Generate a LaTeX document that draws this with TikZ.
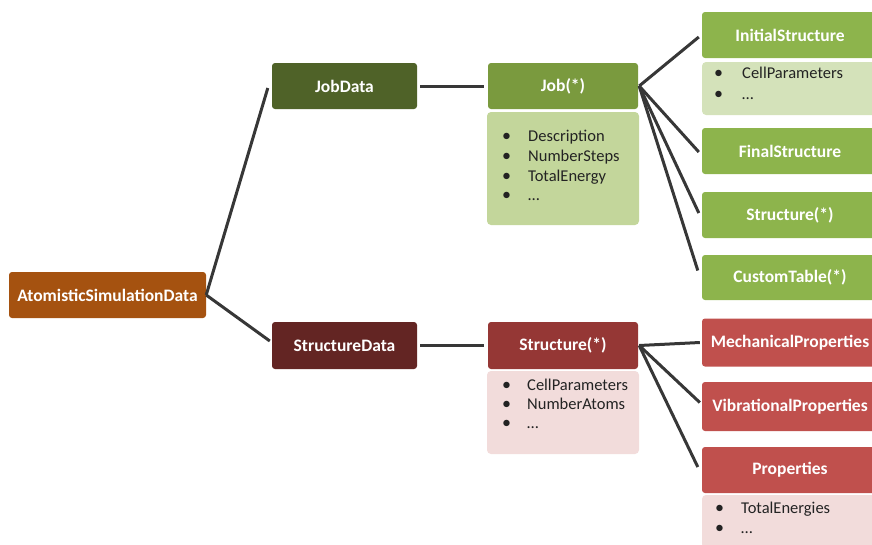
\documentclass[tikz,border=0pt]{standalone}
\usepackage{fontspec}
\setmainfont{Carlito}
\usetikzlibrary{calc}
\definecolor{asdc}{RGB}{165,82,16}
\definecolor{jobdatac}{RGB}{79,98,40}
\definecolor{jobc}{RGB}{122,154,62}
\definecolor{gright}{RGB}{141,180,76}
\definecolor{gbody}{RGB}{195,214,155}
\definecolor{gbodyl}{RGB}{212,226,186}
\definecolor{sdatac}{RGB}{99,37,35}
\definecolor{rstructc}{RGB}{149,55,53}
\definecolor{rright}{RGB}{192,80,77}
\definecolor{pbody}{RGB}{242,220,219}
\definecolor{linegray}{RGB}{55,55,55}
\definecolor{itemgray}{RGB}{35,35,35}
\begin{document}
\begin{tikzpicture}[x=1pt,y=-1pt,
  box/.style={rounded corners=3pt, inner sep=0pt, text=white,
    font=\fontsize{17.5}{20}\selectfont\bfseries, align=center},
  body/.style={rounded corners=4pt, inner sep=0pt},
  item/.style={anchor=base west, inner sep=0pt, text=itemgray,
    font=\fontsize{16.5}{19}\selectfont},
  bul/.style={anchor=base west, inner sep=0pt, text=itemgray,
    font=\fontsize{18}{19}\selectfont},
  link/.style={draw=linegray, line width=3pt}]
\useasboundingbox (0,0) rectangle (872,544);

% left
\node[box, fill=asdc, minimum width=197pt, minimum height=46pt] (asd) at (107.5,295) {AtomisticSimulationData};
\node[box, fill=jobdatac, minimum width=145pt, minimum height=46pt] (jobdata) at (344.5,86) {JobData};
\node[box, fill=sdatac, minimum width=145pt, minimum height=47pt] (structdata) at (344.5,345.5) {StructureData};

% middle
\node[box, fill=jobc, minimum width=150pt, minimum height=46pt] (job) at (563,86) {Job(*)};
\node[body, fill=gbody, minimum width=152pt, minimum height=113pt] (jobbody) at (563,168.5) {};
\node[box, fill=rstructc, minimum width=150pt, minimum height=47pt] (rstruct) at (563,345.5) {Structure(*)};
\node[body, fill=pbody, minimum width=152pt, minimum height=83pt] (rbody) at (563,412.5) {};

% right green
\node[box, fill=gright, minimum width=176pt, minimum height=46pt] (init) at (790,35) {InitialStructure};
\node[body, fill=gbodyl, minimum width=176pt, minimum height=53pt] (initbody) at (790,88.5) {};
\node[box, fill=gright, minimum width=176pt, minimum height=46pt] (final) at (790,151) {FinalStructure};
\node[box, fill=gright, minimum width=176pt, minimum height=46pt] (gstruct) at (790,215) {Structure(*)};
\node[box, fill=gright, minimum width=176pt, minimum height=45pt] (custom) at (790,277.5) {CustomTable(*)};

% right red
\node[box, fill=rright, minimum width=176pt, minimum height=48pt] (mech) at (790,342.5) {MechanicalProperties};
\node[box, fill=rright, minimum width=176pt, minimum height=49pt] (vib) at (790,406.5) {VibrationalProperties};
\node[box, fill=rright, minimum width=176pt, minimum height=46pt] (props) at (790,470) {Properties};
\node[body, fill=pbody, minimum width=176pt, minimum height=53pt] (propsbody) at (790,521.5) {};

% list items
\node[bul] (jb1) at (502,141) {•}; \node[item] (jt1) at (528,141) {Description};
\node[bul] (jb2) at (502,161) {•}; \node[item] (jt2) at (528,161) {NumberSteps};
\node[bul] (jb3) at (502,181) {•}; \node[item] (jt3) at (528,181) {TotalEnergy};
\node[bul] (jb4) at (502,200) {•}; \node[item] (jt4) at (528,200) {\ldots};

\node[bul] (ib1) at (714,78) {•}; \node[item] (it1) at (742,78) {CellParameters};
\node[bul] (ib2) at (714,99) {•}; \node[item] (it2) at (742,99) {\ldots};

\node[bul] (rb1) at (502,390) {•}; \node[item] (rt1) at (527,390) {CellParameters};
\node[bul] (rb2) at (502,409) {•}; \node[item] (rt2) at (527,409) {NumberAtoms};
\node[bul] (rb3) at (502,428) {•}; \node[item] (rt3) at (527,428) {\ldots};

\node[bul] (pb1) at (715,513) {•}; \node[item] (pt1) at (741,513) {TotalEnergies};
\node[bul] (pb2) at (715,533) {•}; \node[item] (pt2) at (741,533) {\ldots};

% connectors
\draw[link] (asd.east) -- ($(jobdata.west)+(-4,2)$);
\draw[link] (asd.east) -- ($(structdata.west)+(-2,-4.5)$);
\draw[link] ($(jobdata.east)+(3,0)$) -- ($(job.west)+(-4,0)$);
\draw[link] ($(structdata.east)+(3,0)$) -- ($(rstruct.west)+(-4,0)$);

\draw[link] ($(job.east)+(1,0)$) -- ($(init.west)+(-3,2)$);
\draw[link] ($(job.east)+(1,0)$) -- ($(final.west)+(-3,1)$);
\draw[link] ($(job.east)+(1,0)$) -- ($(gstruct.west)+(-3,-2)$);
\draw[link] ($(job.east)+(1,0)$) -- ($(custom.west)+(-4,-7)$);

\draw[link] ($(rstruct.east)+(1,0)$) -- ($(mech.west)+(-2,0)$);
\draw[link] ($(rstruct.east)+(1,0)$) -- ($(vib.west)+(-2,-4)$);
\draw[link] ($(rstruct.east)+(1,0)$) -- ($(props.west)+(-4,-3)$);
\end{tikzpicture}
\end{document}
